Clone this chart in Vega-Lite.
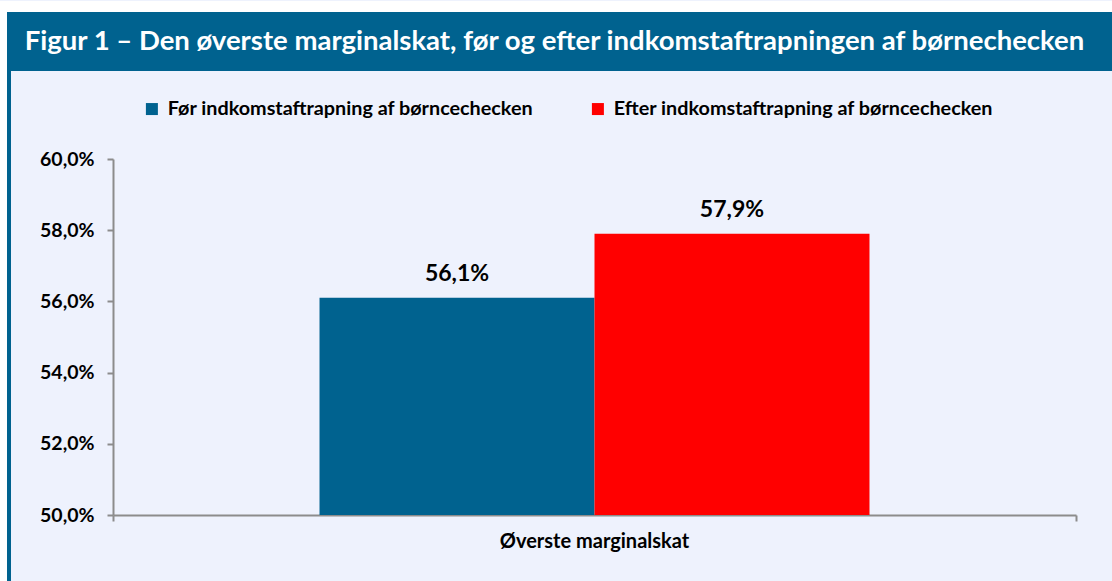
{
  "$schema": "https://vega.github.io/schema/vega-lite/v6.json",
  "background": "#EEF2FD",
  "padding": 0,
  "spacing": 0,
  "bounds": "flush",
  "config": {
    "view": {"stroke": null},
    "locale": {"number": {"decimal": ",", "thousands": ".", "grouping": [3], "currency": ["", " kr."]}},
    "font": "Lato"
  },
  "vconcat": [
    {
      "width": 1112, "height": 11,
      "view": {"fill": "#FFFFFF", "stroke": null},
      "data": {"values": [{}]},
      "mark": {"type": "text", "text": ""},
      "encoding": {}
    },
    {
      "spacing": 0,
      "bounds": "flush",
      "hconcat": [
        {
          "width": 7, "height": 570,
          "view": {"fill": "#FFFFFF", "stroke": null},
          "data": {"values": [{}]},
          "mark": {"type": "text", "text": ""},
          "encoding": {}
        },
        {
          "spacing": 0,
          "bounds": "flush",
          "vconcat": [
            {
              "width": 1105, "height": 59,
              "view": {"fill": "#00628F", "stroke": null},
              "data": {"values": [{"t": "Figur 1 – Den øverste marginalskat, før og efter indkomstaftrapningen af børnechecken"}]},
              "mark": {"type": "text", "font": "Lato", "fontWeight": "bold", "fontSize": 27.5, "color": "#FFFFFF", "align": "center", "baseline": "middle", "dx": -5},
              "encoding": {"text": {"field": "t"}}
            },
            {
              "spacing": 0,
              "bounds": "flush",
              "hconcat": [
                {
                  "width": 4, "height": 511,
                  "view": {"fill": "#00628F", "stroke": null},
                  "data": {"values": [{}]},
                  "mark": {"type": "text", "text": ""},
                  "encoding": {}
                },
                {
                  "width": 102, "height": 511,
                  "data": {"values": [{}]},
                  "mark": {"type": "text", "text": ""},
                  "encoding": {}
                },
                {
                  "spacing": 0,
                  "bounds": "flush",
                  "vconcat": [
                    {
                      "width": 963, "height": 88,
                      "data": {"values": [{}]},
                      "mark": {"type": "text", "text": ""},
                      "encoding": {}
                    },
                    {
                      "width": 963, "height": 356,
                      "data": {"values": [
                        {"kategori": "Øverste marginalskat", "serie": "Før indkomstaftrapning af børncechecken", "vaerdi": 0.561},
                        {"kategori": "Øverste marginalskat", "serie": "Efter indkomstaftrapning af børncechecken", "vaerdi": 0.579}
                      ]},
                      "encoding": {
                        "x": {
                          "field": "kategori", "type": "nominal",
                          "scale": {"paddingInner": 0, "paddingOuter": 0},
                          "axis": {
                            "title": null, "labelAngle": 0, "bandPosition": 1, "tickExtra": true, "labelLimit": 600,
                            "domainColor": "#8C8C8C", "domainWidth": 2, "tickColor": "#8C8C8C", "tickWidth": 2, "tickSize": 6,
                            "labelFont": "Lato", "labelFontWeight": "bold", "labelFontSize": 20, "labelColor": "#000000", "labelPadding": 10
                          }
                        },
                        "xOffset": {
                          "field": "serie", "type": "nominal",
                          "scale": {"domain": ["Før indkomstaftrapning af børncechecken", "Efter indkomstaftrapning af børncechecken"], "paddingInner": 0, "paddingOuter": 0.751}
                        },
                        "y": {
                          "field": "vaerdi", "type": "quantitative",
                          "scale": {"domain": [0.5, 0.6], "zero": false, "nice": false},
                          "axis": {
                            "title": null, "values": [0.5, 0.52, 0.54, 0.56, 0.58, 0.6], "format": ".1%", "grid": false,
                            "domainColor": "#8C8C8C", "domainWidth": 2, "tickColor": "#8C8C8C", "tickWidth": 2, "tickSize": 6,
                            "labelFont": "Lato", "labelFontWeight": "bold", "labelFontSize": 19.5, "labelColor": "#000000", "labelPadding": 13
                          }
                        }
                      },
                      "layer": [
                        {
                          "mark": {"type": "bar"},
                          "encoding": {
                            "y2": {"datum": 0.5},
                            "color": {
                              "field": "serie", "type": "nominal",
                              "scale": {"domain": ["Før indkomstaftrapning af børncechecken", "Efter indkomstaftrapning af børncechecken"], "range": ["#00628F", "#FF0000"]},
                              "legend": {
                                "title": null, "orient": "none", "direction": "horizontal", "legendX": 142, "legendY": 98,
                                "padding": 0, "symbolType": "square", "symbolSize": 144, "symbolStrokeWidth": 0, "symbolOpacity": 1,
                                "labelFont": "Lato", "labelFontWeight": "bold", "labelFontSize": 19.8, "labelColor": "#000000", "labelLimit": 600,
                                "labelOffset": 6, "columnPadding": 54
                              }
                            }
                          }
                        },
                        {
                          "mark": {"type": "text", "font": "Lato", "fontWeight": "bold", "fontSize": 23, "color": "#000000", "baseline": "alphabetic", "dy": -17},
                          "encoding": {"text": {"field": "vaerdi", "type": "quantitative", "format": ".1%"}}
                        }
                      ]
                    }
                  ]
                }
              ]
            }
          ]
        }
      ]
    }
  ]
}
